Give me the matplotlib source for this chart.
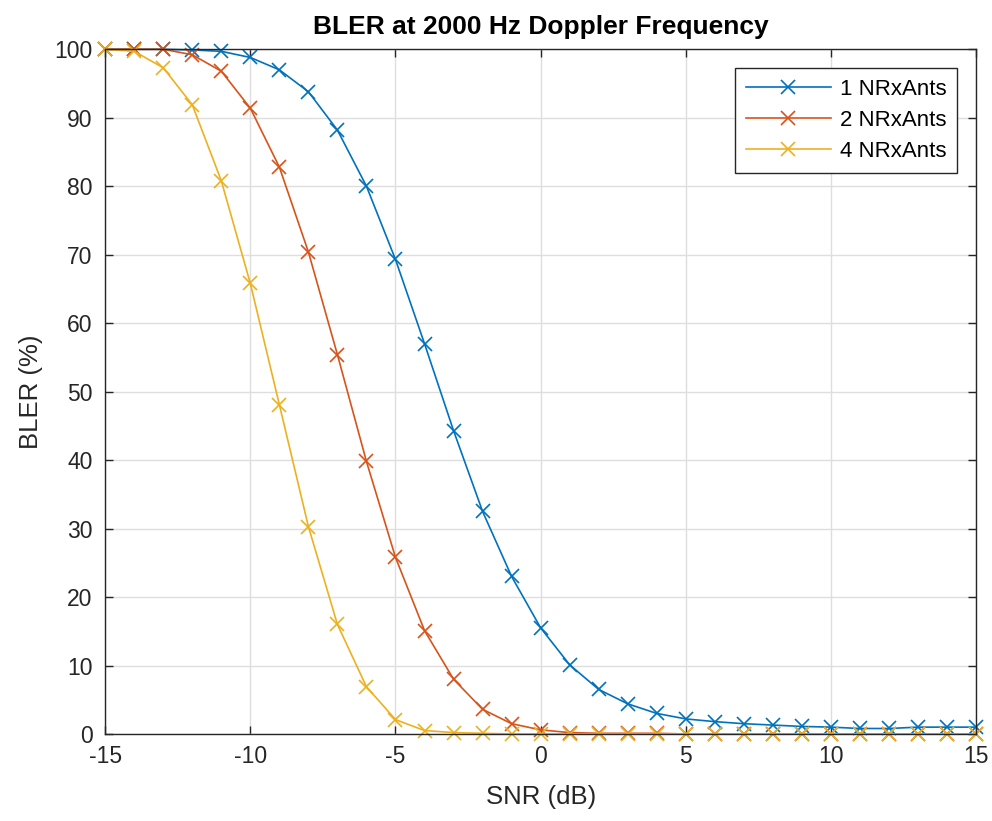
import numpy as np
import matplotlib.pyplot as plt

plt.rcParams['font.family'] = ['Liberation Sans', 'DejaVu Sans']
plt.rcParams['axes.unicode_minus'] = False

snr = list(range(-15, 16))

bler_1 = [100, 100, 100, 99.9, 99.7, 98.8, 97.0, 93.8, 88.2, 80.0, 69.3, 57.0, 44.3,
          32.5, 23.0, 15.5, 10.1, 6.5, 4.4, 3.0, 2.2, 1.8, 1.5, 1.3, 1.1, 1.0, 0.8,
          0.8, 1.0, 1.0, 1.0]
bler_2 = [100, 100, 100, 99.2, 96.8, 91.4, 82.8, 70.4, 55.4, 39.8, 25.8, 15.1, 8.0,
          3.6, 1.5, 0.6, 0.2, 0.1, 0.1, 0.1, 0, 0, 0, 0, 0, 0, 0, 0, 0, 0, 0]
bler_4 = [100, 99.7, 97.3, 91.9, 80.8, 65.8, 48.1, 30.3, 16.0, 6.9, 2.1, 0.5, 0.2,
          0.1, 0, 0, 0, 0, 0, 0, 0, 0, 0, 0, 0, 0, 0, 0, 0, 0, 0]

labels = ['1 NRxAnts', '2 NRxAnts', '4 NRxAnts']
colors = ['#0072BD', '#D95319', '#EDB120']

fig = plt.figure(figsize=(9.92, 8.21), dpi=100)
ax = fig.add_axes([0.106, 0.106, 0.878, 0.834])

for y, lab, c in zip([bler_1, bler_2, bler_4], labels, colors):
    ax.plot(snr, y, '-x', color=c, label=lab, linewidth=1.2, markersize=10,
            markeredgewidth=1.2, clip_on=False)

ax.set_xlim(-15, 15)
ax.set_ylim(0, 100)
ax.set_xticks(np.arange(-15, 16, 5))
ax.set_yticks(np.arange(0, 101, 10))
ax.grid(True, color='#dedede', linewidth=1)
ax.set_axisbelow(True)
ax.tick_params(direction='in', labelsize=16.5, length=6, width=1, colors='#262626',
               top=True, right=True)
ax.tick_params(axis='x', pad=8)
ax.tick_params(axis='y', pad=9)
for s in ax.spines.values():
    s.set_color('#262626')
    s.set_linewidth(1)

ax.set_xlabel('SNR (dB)', fontsize=18.5, color='#262626', labelpad=12)
ax.set_ylabel('BLER (%)', fontsize=18.5, color='#262626', labelpad=8)
ax.set_title('BLER at 2000 Hz Doppler Frequency', fontsize=19, fontweight='bold', pad=11)

leg = ax.legend(loc='upper right', fontsize=16, fancybox=False, edgecolor='#262626',
                framealpha=1, borderaxespad=0.85, handlelength=3.8, labelspacing=0.45,
                borderpad=0.5, handletextpad=0.4)
leg.get_frame().set_linewidth(1)

fig.savefig('out.png', dpi=100)
